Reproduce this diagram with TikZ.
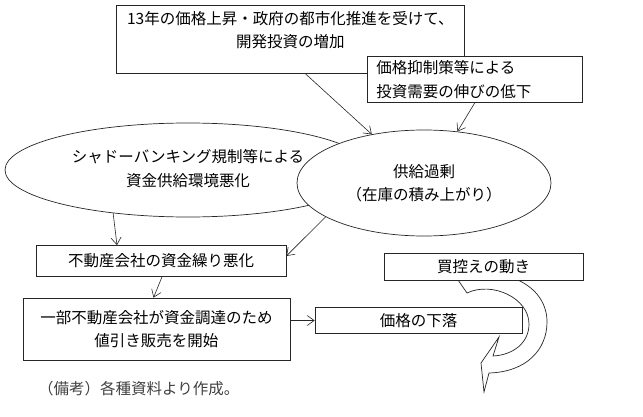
\documentclass[tikz,border=0pt]{standalone}
\usepackage{fontspec}
\setmainfont{Noto Sans CJK JP}
\usetikzlibrary{arrows.meta, shapes.geometric, calc}

\begin{document}
\begin{tikzpicture}[x=1pt, y=-1pt,
  box/.style={draw=black!85, line width=0.7pt, fill=white, inner sep=0pt},
  oval/.style={ellipse, draw=black!85, line width=0.7pt, fill=white, inner sep=0pt},
  arr/.style={draw=black!85, line width=0.6pt, -{Straight Barb[length=7pt,width=10pt]}},
  font=\fontsize{15.5}{23.5}\selectfont]
\useasboundingbox (0,0) rectangle (643,417);

\node[box, anchor=north west, inner sep=4pt] (rise) at (116,5) {\parbox[c][60pt][t]{340pt}{\centering\vspace*{2pt}13年の価格上昇・政府の都市化推進を受けて、\\開発投資の増加}};
\node[box, anchor=north west, text width=197pt, align=left, inner xsep=9pt, minimum height=46pt] (curb) at (367,56) {価格抑制策等による\\投資需要の伸びの低下};
\node[oval, minimum width=366pt, minimum height=94pt] (shadow) at (188,170) {\raisebox{6pt}{\begin{tabular}{@{}c@{}}シャドーバンキング規制等による\\資金供給環境悪化\end{tabular}}};
\node[oval, minimum width=254pt, minimum height=106pt, align=center] (glut) at (424,183) {供給過剰\\（在庫の積み上がり）};
\node[box, minimum width=250pt, minimum height=31pt] (funds) at (161,261) {不動産会社の資金繰り悪化};
\node[box, minimum width=267pt, minimum height=62pt, align=center] (discount) at (156.5,329) {一部不動産会社が資金調達のため\\値引き販売を開始};

% U-turn arrow under the box
\draw[draw=black!85, line width=0.7pt, fill=white] (458,280) -- (467,293)
  .. controls (492,281) and (529,298) .. (529,324)
  .. controls (529,343) and (513,355) .. (493,356)
  -- (499,337) -- (481,363) -- (484,392) -- (489,373)
  .. controls (526,372) and (547,350) .. (547,322)
  .. controls (547,304) and (537,289) .. (518,280) -- cycle;

\node[box, minimum width=199pt, minimum height=27pt] (hold) at (483.5,266.5) {買控えの動き};
\node[box, minimum width=207pt, minimum height=26pt] (fall) at (418.5,320.5) {価格の下落};
\node[anchor=west, text=black!75, inner sep=0pt] (note) at (38,389) {（備考）各種資料より作成。};

\draw[arr] ([xshift=15pt]rise.south) -- (glut.137);
\draw[arr] (curb.south) -- (glut.57);
\draw[arr] (shadow.210) -- ([xshift=-44pt]funds.north);
\draw[arr] (glut.199) -- ([yshift=5pt]funds.east);
\draw[arr] ([xshift=1pt]funds.south) -- ([xshift=-3pt]discount.north);
\draw[arr] (discount.east |- fall.west) -- (fall.west);
\end{tikzpicture}
\end{document}
